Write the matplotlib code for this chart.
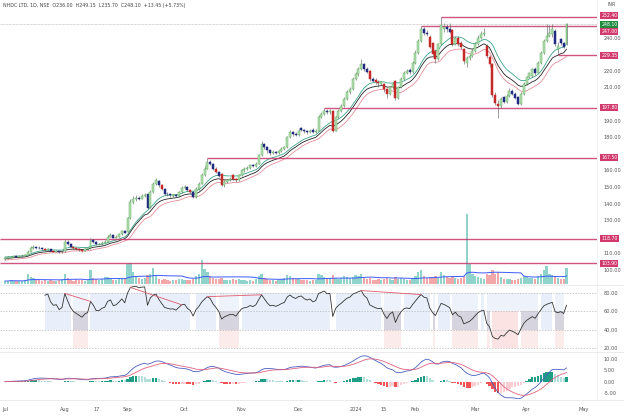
import numpy as np
import pandas as pd
import matplotlib
matplotlib.use("Agg")
import matplotlib.pyplot as plt
from matplotlib.transforms import blended_transform_factory, offset_copy

plt.rcParams['font.family'] = ['DejaVu Sans']

# ---------------- data ----------------
title_text = "NHDC LTD, 1D, NSE  O236.00  H249.15  L235.70  C248.10  +13.45 (+5.73%)"
currency = "INR"

holidays = ["2023-08-15", "2023-09-19", "2023-10-02", "2023-10-24", "2023-11-14",
            "2023-11-27", "2023-12-25", "2024-01-22", "2024-01-26", "2024-03-08",
            "2024-03-25", "2024-03-29", "2024-04-11", "2024-04-17", "2024-05-01"]

open_ = [106.5, 107, 107.4, 108, 108.6, 108, 108.4, 108.5, 109, 111,
         113.3, 114, 113.5, 113.2, 112.5, 112, 112.6, 111.5, 110.8, 111.2,
         110.6, 111.2, 117, 115.5, 114, 113, 112.5, 112, 111.6, 112.5,
         113, 118, 117, 115.4, 115.5, 116.5, 117, 120, 121, 119.5,
         120, 121.5, 123.5, 123, 131, 141, 143, 143.5, 143, 144.5,
         145.5, 138, 147, 152, 153.5, 151, 148.5, 146, 145.5, 144.6,
         145.2, 144.5, 147, 149.5, 150, 148, 147, 144, 149, 152,
         157, 161, 165, 164, 161, 159, 158, 151, 153, 154,
         157, 155, 154, 157, 160, 161, 161.5, 163, 162.5, 164,
         169, 176, 174, 172, 170.5, 171, 170.5, 171.5, 173, 174,
         180, 183, 182, 181.5, 185.5, 184.5, 183.5, 183, 184.5, 183,
         184, 192, 194, 196, 195, 196, 184, 192, 196, 199,
         203, 207, 209, 215, 218, 221, 224, 221, 220, 215,
         214.5, 213.5, 212, 212, 209, 206, 210, 214, 203.5, 210,
         215, 219, 220.5, 219.5, 225, 231, 238, 245.5, 243, 240.5,
         236.5, 232, 227, 236, 245, 246.5, 245.5, 244.5, 236, 240,
         237, 233, 225, 227.5, 229, 232, 236, 240, 242.5, 235,
         228.5, 224, 205.5, 200, 199, 204, 201.5, 205, 208, 206,
         204, 200, 206, 212, 216, 217, 221, 219, 225, 231,
         238, 241, 242.5, 244, 233, 239.5, 236.5, 236]

close = [107, 107.5, 108, 108.5, 108, 108.5, 108.5, 109, 111, 113.5,
         114, 113.5, 113, 112.5, 112, 112.5, 111.5, 111, 111.2, 110.5,
         111, 117, 115.5, 114, 113, 112.5, 112, 111.5, 112.5, 113,
         118, 117, 115.5, 115.5, 116.5, 117, 120, 121, 119.5, 120,
         121.5, 123.5, 122.5, 131, 141, 143, 143.5, 143, 144.5, 145,
         137.5, 147, 152, 154, 151, 148.5, 146, 145.5, 145, 145.2,
         144.5, 147, 149.5, 150, 148, 147, 144, 149, 152, 157,
         161, 165, 164, 161, 159, 156.5, 151, 153, 154, 155,
         155, 154, 157, 160, 161, 161.5, 163, 162.5, 164, 169,
         176, 174, 172, 170.5, 171, 170.5, 171.5, 173, 174, 180,
         183, 182, 181.5, 184, 184.5, 183.5, 183, 184, 183, 184,
         192, 194, 196, 195, 195.5, 184, 192, 196, 199, 203,
         207, 209, 215, 218, 221, 224, 221, 219.5, 215, 214,
         213, 212.5, 213, 209, 206, 210, 212, 203.5, 210, 215,
         219, 220, 219.5, 225, 231, 238, 245, 243, 242.5, 234.5,
         230, 227, 236, 247.5, 246.5, 245, 243.5, 236, 240, 236,
         234.5, 226, 227.5, 229, 232, 236, 240, 242.5, 243, 229,
         224, 205.5, 200.5, 199, 203, 201.5, 205, 208, 206, 203.5,
         200, 206, 212, 216, 218.5, 221, 219, 225, 231, 238,
         241, 243, 245, 236, 235, 236.5, 234.65, 248.1]

high = [107.8, 108.2, 108.6, 109.2, 109, 109, 109.3, 109.8, 111.8, 114.2,
        115, 114.6, 114.2, 113.6, 113, 113.2, 112.8, 112, 111.8, 111.6,
        111.8, 118.5, 117.8, 116, 114.4, 113.4, 113, 112.5, 113, 113.8,
        119, 118.6, 117.4, 116.2, 117.2, 117.8, 120.8, 122, 121.4, 120.8,
        122.2, 124.2, 124, 132, 142.5, 144.5, 145, 144.6, 145.6, 146.4,
        146, 148, 153.2, 155.4, 154, 151.6, 149.2, 147, 146.4, 146,
        146, 147.8, 150.4, 151, 150.4, 148.6, 147.4, 149.8, 153, 158.4,
        162.4, 167.5, 166.4, 164.6, 161.8, 159.6, 158.4, 154, 155, 156.2,
        157.6, 155.6, 158, 161, 162, 162.4, 164, 163.8, 165, 170,
        177.5, 176.8, 174.6, 172.6, 172, 171.8, 172.4, 174, 175, 181,
        184.2, 184, 183, 185, 186.4, 185.2, 184.2, 185, 185.4, 185,
        193.2, 195.2, 197.8, 196.8, 197, 196.6, 193, 197, 200.2, 204,
        208.2, 210.4, 216.4, 219.4, 222.6, 227, 225, 222.2, 220.6, 216,
        215.4, 214.4, 214, 212.6, 209.6, 211, 213.2, 214.6, 211, 216,
        220, 221.4, 221.6, 226, 232.4, 239.2, 247, 246.4, 244.6, 241.4,
        237.4, 233, 237, 252.4, 249, 248.4, 249, 245, 241.2, 241,
        237.8, 233.6, 229, 230, 233.2, 237.2, 241.4, 244, 245.8, 236.2,
        229.4, 224.6, 207, 202.6, 204.4, 205, 206.2, 209.4, 209, 207,
        204.8, 207, 213, 217.2, 219.6, 222, 222.4, 226, 232.2, 239.4,
        248, 247.4, 248.2, 245, 237.4, 240, 237.2, 249.15]

low = [106, 106.6, 107, 107.6, 107.5, 107.6, 108, 108.2, 108.8, 110.6,
       112.8, 112.8, 112.5, 112, 111.5, 111.6, 111.2, 110.6, 110.5, 110,
       110.2, 111, 114.8, 113.6, 112.6, 112, 111.4, 110.8, 111.2, 112.2,
       112.8, 116.4, 115, 114.8, 115.2, 116, 116.8, 119.6, 119, 119,
       119.8, 121.2, 122, 122.8, 130.5, 140, 141.8, 142, 142.6, 143.8,
       137, 137.6, 146.5, 151, 150.2, 148, 145.4, 144.8, 144.2, 144.2,
       143.8, 144, 146.6, 148.8, 147.4, 146.4, 143.2, 143.6, 148.4, 151.6,
       156.4, 160.6, 163, 160.2, 158.2, 155.8, 150.4, 150, 152.4, 153.4,
       154.4, 153, 153.6, 156.6, 159.2, 160.4, 161, 161.8, 162, 163.6,
       168.6, 173, 170.6, 169.4, 169.6, 169.8, 170, 171, 172.4, 173.6,
       179.4, 181, 180.6, 181, 183.6, 182.8, 182.2, 182.6, 182.4, 182.6,
       183.6, 191.4, 193.4, 194, 194.2, 183, 183.6, 191.4, 195.4, 198.4,
       202.4, 206, 208.6, 214.2, 217.2, 220.4, 220.2, 218.6, 214, 213.2,
       212, 210.4, 211.4, 207.4, 203.8, 205.4, 209, 202.4, 203, 209.4,
       214.2, 218.2, 218.4, 219, 224.4, 230.4, 237.4, 241.6, 241, 233.6,
       229.2, 224.6, 226.4, 235.4, 243.6, 243.6, 242.6, 235.2, 235.4, 235,
       233.4, 224, 222.6, 226.6, 228.4, 231.4, 235.4, 239.2, 241, 228,
       222.6, 204.4, 199.4, 191.6, 197.6, 200.6, 200.8, 204.4, 205.2, 202.8,
       199.2, 199.6, 205.4, 211.4, 215.4, 216.2, 217.8, 218.6, 224.4, 230.4,
       237.2, 240.2, 240.4, 234.8, 229.35, 235.4, 233.6, 235.7]

volume_lakh = [3, 3, 4, 3, 3, 3, 3, 4, 10, 7,
               6, 4, 4, 3, 4, 3, 4, 3, 3, 4,
               5, 10, 6, 4, 3, 5, 4, 4, 3, 4,
               14, 6, 5, 4, 5, 7, 7, 6, 4, 4,
               5, 6, 6, 20, 21, 12, 8, 6, 5, 6,
               9, 10, 16, 8, 5, 4, 5, 4, 3, 4,
               4, 5, 5, 4, 4, 4, 5, 8, 10, 24,
               15, 12, 8, 6, 5, 5, 6, 4, 4, 4,
               5, 4, 5, 4, 4, 3, 4, 3, 5, 8,
               10, 6, 5, 4, 4, 3, 4, 5, 6, 9,
               8, 6, 5, 5, 4, 4, 4, 3, 4, 4,
               10, 9, 7, 5, 5, 9, 6, 5, 6, 8,
               7, 6, 7, 9, 8, 10, 6, 5, 6, 4,
               4, 5, 4, 5, 6, 5, 4, 7, 5, 6,
               5, 4, 4, 6, 8, 12, 14, 8, 6, 7,
               7, 8, 6, 12, 9, 7, 6, 8, 6, 5,
               6, 8, 70, 20, 10, 8, 7, 6, 5, 10,
               9, 14, 10, 12, 7, 5, 5, 5, 4, 4,
               5, 6, 8, 7, 6, 6, 5, 8, 10, 14,
               18, 10, 9, 7, 6, 5, 5, 16]

# candles drawn in navy in the reference
blue_bars = [4, 11, 12, 13, 16, 19, 22, 23, 31, 32, 38, 42, 47, 50, 54, 56, 57, 58,
             60, 64, 66, 72, 73, 75, 87, 91, 92, 93, 95, 101, 102, 104, 105, 106,
             108, 113, 126, 127, 129, 142, 147, 148, 155, 156, 175, 178, 179, 180,
             186, 193, 195, 196]

# horizontal levels and the bar where each starts (None = full width)
level_prices = [252.40, 247.00, 229.35, 197.80, 167.50, 118.70, 103.90]
level_starts = [153, 146, 194, 112, 71, None, None]
last_price = 248.10

# RSI divergence (bar index pairs)
divergences = [(21, 30), (44, 62), (71, 90), (125, 146)]

tick_dates = ["2023-07-03", "2023-08-01", "2023-08-17", "2023-09-01", "2023-10-03",
              "2023-11-01", "2023-12-01", "2024-01-01", "2024-01-15", "2024-02-01",
              "2024-03-01", "2024-04-01", "2024-05-02"]
tick_labels = ["Jul", "Aug", "17", "Sep", "Oct", "Nov", "Dec", "2024", "15",
               "Feb", "Mar", "Apr", "May"]

# price axis ticks left visible (others are hidden behind the level labels)
price_ticks = [100, 110, 130, 140, 150, 160, 180, 190, 210, 220, 240]
rsi_levels = [80, 60, 40, 20]
macd_ticks = [10, 5, 0, -5]

# ---------------- computations ----------------
o = np.array(open_, float)
c = np.array(close, float)
h = np.array(high, float)
l = np.array(low, float)
v = np.array(volume_lakh, float)
n = len(c)
x = np.arange(n)

dates = pd.bdate_range("2023-07-03", "2024-05-10")
dates = dates[~dates.isin(pd.to_datetime(holidays))]
tick_pos = [dates.get_loc(pd.Timestamp(d)) for d in tick_dates]

s = pd.Series(c)
mid = s.ewm(span=15, adjust=False).mean()
upper = pd.Series(h).ewm(span=15, adjust=False).mean()
lower = pd.Series(l).ewm(span=15, adjust=False).mean()

delta = s.diff()
gain = delta.clip(lower=0)
loss = -delta.clip(upper=0)
ag = gain.ewm(alpha=1 / 14, adjust=False).mean()
al = loss.ewm(alpha=1 / 14, adjust=False).mean()
rsi = (100 - 100 / (1 + ag / al)).values
rsi[:14] = np.nan

ema12 = s.ewm(span=12, adjust=False).mean()
ema26 = s.ewm(span=26, adjust=False).mean()
macd = (ema12 - ema26).values
signal = pd.Series(macd).ewm(span=9, adjust=False).mean().values
hist = macd - signal

vol_ma = pd.Series(v).rolling(20, min_periods=1).mean()

# ---------------- figure ----------------
W, H = 624, 419
fig = plt.figure(figsize=(W / 100, H / 100), dpi=100)
fig.patch.set_facecolor("white")

def rect(x0, y0, x1, y1):
    return [x0 / W, 1 - y1 / H, (x1 - x0) / W, (y1 - y0) / H]

plot_right = 597
ax = fig.add_axes(rect(0, 8, plot_right, 284))
ax_r = fig.add_axes(rect(0, 285, plot_right, 352), sharex=ax)
ax_m = fig.add_axes(rect(0, 352, plot_right, 399), sharex=ax)

xlim = (-1.75, 207.7)
fs = 3.6
tcol = "#555555"

# volume overlay
ax_v = ax.twinx()
ax_v.set_ylim(0, 276)
up = c >= o
ax_v.bar(x[up], v[up], width=0.8, color="#8fd3cb", linewidth=0)
ax_v.bar(x[~up], v[~up], width=0.8, color="#f2a8a8", linewidth=0)
ax_v.plot(x, vol_ma, color="#3d5afe", lw=0.7)
ax_v.axis("off")
ax.set_zorder(ax_v.get_zorder() + 1)
ax.patch.set_visible(False)

# bands
ax.plot(x, upper, color="#3aa58a", lw=0.6)
ax.plot(x, mid, color="#222222", lw=0.6)
ax.plot(x, lower, color="#e58c98", lw=0.6)

# candles
colors = []
edges = []
for i in range(n):
    if c[i] >= o[i]:
        colors.append("#b5e0b3"); edges.append("#5fae5f")
    elif i in blue_bars:
        colors.append("#1f2a80"); edges.append("#1f2a80")
    else:
        colors.append("#c62828"); edges.append("#c62828")
ax.vlines(x, l, h, colors="#666666", lw=0.45, zorder=3)
body_bot = np.minimum(o, c)
body_h = np.maximum(np.abs(c - o), 0.25)
ax.bar(x, body_h, bottom=body_bot, width=0.7, color=colors, edgecolor=edges,
       linewidth=0.35, zorder=4)

# current price line
ax.axhline(last_price, color="#b0b0b0", lw=0.5, ls=(0, (1, 1)), zorder=1)

# levels
lvl_col = "#c8376b"
for p, st in zip(level_prices, level_starts):
    x0 = xlim[0] if st is None else st
    ax.hlines(p, x0, xlim[1], color=lvl_col, lw=1.0, alpha=0.85, zorder=2)

ax.set_xlim(*xlim)
ax.set_ylim(91.5, 257.9)
ax.yaxis.tick_right()
ax.set_yticks(price_ticks)
ax.set_yticklabels([f"{t:.2f}" for t in price_ticks])
ax.tick_params(axis="y", length=0, pad=5, labelsize=fs, labelcolor=tcol)
ax.tick_params(axis="x", length=0, labelbottom=False)
for sp in ax.spines.values():
    sp.set_visible(False)

trans = blended_transform_factory(ax.transAxes, ax.transData)
def price_label(val, fc, dy=0):
    tr = offset_copy(trans, fig=fig, x=0, y=dy, units="points")
    ax.text(1.007, val, f"{val:.2f}", transform=tr, fontsize=3.3, color="white",
            ha="left", va="center", clip_on=False, zorder=20,
            bbox=dict(boxstyle="square,pad=0.22", fc=fc, ec="none"))

label_shift = {252.40: 1.0, 247.00: -3.6}
for p in level_prices:
    price_label(p, "#d23a6e", label_shift.get(p, 0))
price_label(last_price, "#1e8c3e")

# ---------------- RSI ----------------
ax_r.set_ylim(15.6, 88.7)
bull = rsi >= 60
mid_zone = (rsi >= 40) & (rsi < 60)
weak = rsi < 40
ax_r.fill_between(x, 40, 80, where=bull, step="mid", color="#e8effa", lw=0)
ax_r.fill_between(x, 60, 80, where=mid_zone | weak, step="mid", color="#eef3fb", lw=0)
ax_r.fill_between(x, 40, 60, where=mid_zone, step="mid", color="#d6d4de", lw=0)
ax_r.fill_between(x, 20, 40, where=mid_zone, step="mid", color="#fbeceb", lw=0)
ax_r.fill_between(x, 20, 60, where=weak, step="mid", color="#fbe3e3", lw=0)
for lv in rsi_levels:
    ax_r.axhline(lv, color="#b5b5b5", lw=0.5, ls=(0, (2, 2)))
ax_r.plot(x, rsi, color="#333333", lw=0.6)
for a, b in divergences:
    ax_r.plot([a, b], [rsi[a], rsi[b]], color="#e05a6a", lw=0.6)
ax_r.yaxis.tick_right()
ax_r.set_yticks(rsi_levels)
ax_r.set_yticklabels([f"{t:.2f}" for t in rsi_levels])
ax_r.tick_params(axis="y", length=0, pad=5, labelsize=fs, labelcolor=tcol)
ax_r.tick_params(axis="x", length=0, labelbottom=False)
for sp in ax_r.spines.values():
    sp.set_visible(False)

# ---------------- MACD ----------------
ax_m.set_ylim(-7.65, 13.1)
hcols = []
for i in range(n):
    prev = hist[i - 1] if i > 0 else 0
    if hist[i] >= 0:
        hcols.append("#1e9e86" if hist[i] >= prev else "#b2dfdb")
    else:
        hcols.append("#f05454" if hist[i] <= prev else "#ffcdd2")
ax_m.bar(x, hist, width=0.8, color=hcols, linewidth=0)
ax_m.plot(x, macd, color="#4a5fc1", lw=0.6)
ax_m.plot(x, signal, color="#e0607e", lw=0.6)
ax_m.yaxis.tick_right()
ax_m.set_yticks(macd_ticks)
ax_m.set_yticklabels([f"{t:.2f}" for t in macd_ticks])
ax_m.tick_params(axis="y", length=0, pad=5, labelsize=fs, labelcolor=tcol)
ax_m.set_xticks(tick_pos)
ax_m.set_xticklabels(tick_labels)
ax_m.tick_params(axis="x", length=0, pad=6, labelsize=fs, labelcolor=tcol)
for sp in ax_m.spines.values():
    sp.set_visible(False)
ax_m.set_xlim(*xlim)

# separators
for yy in (285, 352, 400):
    fig.add_artist(plt.Line2D([0, 1], [1 - yy / H, 1 - yy / H], color="#e3e3e3", lw=0.5))
fig.add_artist(plt.Line2D([plot_right / W, plot_right / W], [1 - 400 / H, 1], color="#ececec", lw=0.5))

fig.text(3 / W, 1 - 5 / H, title_text, fontsize=3.4, color="#444444", va="center", ha="left")
fig.text(608 / W, 1 - 5 / H, currency, fontsize=3.4, color="#555555", va="center", ha="left")

fig.savefig("out.png", dpi=100)
